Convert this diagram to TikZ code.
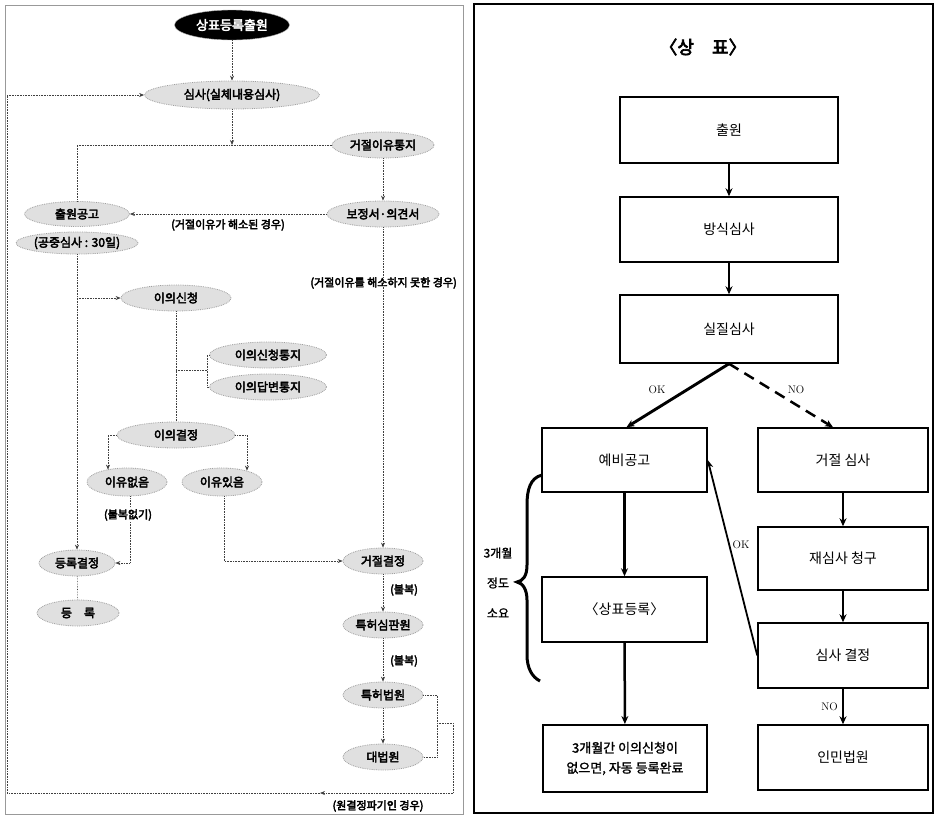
\documentclass[tikz,border=0pt]{standalone}
\usepackage{fontspec}
\newfontfamily\kr{Noto Sans CJK KR}
\newfontfamily\krb[FakeBold=3.5]{Noto Sans CJK KR}
\newfontfamily\krm[FakeBold=1.5]{Noto Sans CJK KR}
\usetikzlibrary{shapes.geometric,arrows.meta,calc}
\begin{document}
\begin{tikzpicture}[x=1pt,y=-1pt,
  lel/.style={ellipse, fill=gray!24, draw=gray!75, densely dotted, line width=0.8pt, inner sep=0pt,
    font=\krb\fontsize{12}{14}\selectfont, minimum height=26pt, minimum width=80pt},
  topel/.style={ellipse, fill=black, draw=gray!60, inner sep=0pt, text=white,
    font=\krb\fontsize{13}{15}\selectfont, minimum height=30pt, minimum width=115pt},
  lbl/.style={inner sep=1pt, font=\krb\fontsize{11}{13}\selectfont},
  lc/.style={densely dotted, draw=black!75, line width=0.6pt},
  la/.style={lc, -{Stealth[length=5pt,width=4pt]}},
  box/.style={draw, line width=1.5pt, inner sep=0pt, font=\kr\fontsize{14}{19}\selectfont, align=center},
  ra/.style={line width=2.5pt, -{Stealth[length=8pt,width=7pt]}},
  rl/.style={inner sep=1pt, font=\rmfamily\fontsize{11}{13}\selectfont},
  bl/.style={inner sep=1pt, font=\krm\fontsize{12}{14}\selectfont}
]
\useasboundingbox (0,0) rectangle (936,817);
\fill[white] (0,0) rectangle (936,817);

% ---------------- left panel ----------------
\draw[gray!80, line width=0.6pt] (5,5) rectangle (463,814);

\node[topel] (n0) at (232,25) {상표등록출원};
\node[lel, minimum width=175pt, minimum height=28pt] (n1) at (232,95) {심사(실체내용심사)};
\node[lel, minimum width=102pt] (n2) at (383,145) {거절이유통지};
\node[lel, minimum width=112pt] (n3) at (383,214) {보정서·의견서};
\node[lel, minimum width=105pt, minimum height=25pt] (n4) at (77,214) {출원공고};
\node[lel, minimum width=112pt, minimum height=22pt] (n5) at (77,243) {(공중심사 : 30일)};
\node[lel, minimum width=110pt] (n6) at (176,298) {이의신청};
\node[lel, minimum width=117pt] (n7) at (268,355) {이의신청통지};
\node[lel, minimum width=117pt] (n8) at (268,387) {이의답변통지};
\node[lel, minimum width=118pt] (n9) at (176,435) {이의결정};
\node[lel, minimum height=28pt] (n10) at (127,482) {이유없음};
\node[lel, minimum height=28pt] (n11) at (222,482) {이유있음};
\node[lel, minimum width=76pt] (n12) at (77,563) {등록결정};
\node[lel, minimum width=82pt] (n13) at (78,613) {등\quad 록};
\node[lel] (n14) at (383,561) {거절결정};
\node[lel] (n15) at (383,625) {특허심판원};
\node[lel] (n16) at (383,695) {특허법원};
\node[lel] (n17) at (383,757) {대법원};

\node[lbl] (l1) at (228,225) {(거절이유가 해소된 경우)};
\node[lbl, anchor=east] (l2) at (458,283) {(거절이유를 해소하지 못한 경우)};
\node[lbl, anchor=west] (l4) at (389,590) {(불복)};
\node[lbl, anchor=west] (l5) at (389,661) {(불복)};
\node[lbl] (l6) at (378,806) {(원결정파기인 경우)};

\coordinate (lb) at (7,95);
\coordinate (j1) at (232,145);
\coordinate (j2) at (77,298);
\coordinate (j3) at (176,370);
\coordinate (j4) at (207,370);
\coordinate (c1) at (437,723);
\coordinate (c2) at (453,793);
\coordinate (c3) at (320,793);
\coordinate (c4) at (7,793);

\draw[la] (n0) -- (n1);
\draw[la] (lb) -- (n1.west);
\draw[la] (n1.south) -- (j1);
\draw[lc] (n4.north) |- (n2.west);
\draw[la] (n2) -- (n3);
\draw[la] (n3.west) -- (n4.east);
\draw[la] (n3.south) -- (n14.north);
\draw[la] (n5.south) -- (n12.north);
\draw[la] (j2) -- (n6.west);
\draw[lc] (n6.south) -- (n9.north);
\draw[lc] (j3) -- (j4);
\draw[lc] (n7.west) -| (j4) |- (n8.west);
\draw[la] (n9.west) -| ($(n10.north)+(-19,2)$);
\draw[la] (n9.east) -| ($(n11.north)+(25,3)$);
\draw[la] ($(n10.south)+(3,0)$) |- (n12.east);
\draw[la] ($(n11.south)+(2,0)$) |- (n14.west);
\draw[lc] (n12) -- (n13);
\draw[la] (n14) -- (n15);
\draw[la] (n15) -- (n16);
\draw[la] (n16) -- (n17);
\draw[lc] (n16.east) -| (c1) |- (n17.east);
\draw[lc] (c1) -| (c2);
\draw[la] (c2) -- (c3);
\draw[lc] (c3) -- (c4) -- (lb);
\node[lbl, fill=white] (l3) at (128,515) {(불복없기)};

% ---------------- right panel ----------------
\draw[line width=1.2pt] (474,4) rectangle (933,813);

\node[inner sep=0pt, font=\krb\fontsize{18}{20}\selectfont] (rt) at (703,47) {〈상\quad 표〉};

\node[box, minimum width=218pt, minimum height=66pt] (r1) at (729,130) {출원};
\node[box, minimum width=218pt, minimum height=65pt] (r2) at (729,229.5) {방식심사};
\node[box, minimum width=218pt, minimum height=68pt] (r3) at (729,329) {실질심사};
\node[box, minimum width=165pt, minimum height=64pt] (r4) at (624.5,460) {예비공고};
\node[box, minimum width=170pt, minimum height=64pt] (r5) at (843,460) {거절 심사};
\node[box, minimum width=170pt, minimum height=63pt] (r6) at (843,558.5) {재심사 청구};
\node[box, minimum width=170pt, minimum height=65pt] (r7) at (843,655.5) {심사 결정};
\node[box, minimum width=170pt, minimum height=65pt] (r8) at (843,757.5) {인민법원};
\node[box, minimum width=165pt, minimum height=65pt] (r9) at (624.5,609.5) {〈상표등록〉};
\node[box, minimum width=164pt, minimum height=67pt, line width=2pt, font=\krm\fontsize{13}{20}\selectfont] (r10) at (625,758.5) {3개월간 이의신청이\\없으면, 자동 등록완료};

\draw[ra] (r1) -- (r2);
\draw[ra] (r2) -- (r3);
\draw[ra, line width=2.9pt] (r3.south) -- ($(r4.north)+(2,0)$);
\draw[ra, dash pattern=on 11pt off 7pt] (r3.south) -- ($(r5.north)+(-10,0)$);
\draw[ra] (r4) -- (r9);
\draw[ra] (r9) -- (r10);
\draw[ra] (r5) -- (r6);
\draw[ra] (r6) -- (r7);
\draw[ra] (r7) -- (r8);
\draw[line width=1.8pt, -{Stealth[length=8pt,width=7pt]}] (r7.west) -- (r4.east);

\node[rl] (ok1) at (657,390) {OK};
\node[rl] (no1) at (796,390) {NO};
\node[rl] (ok2) at (741,545) {OK};
\node[rl, anchor=east] (no2) at (839,707) {NO};

\draw[line width=3pt] (542,475) .. controls (530,478) and (527,490) .. (527,505)
  -- (527,565) .. controls (527,576) and (523,581) .. (517,582)
  .. controls (523,583) and (527,590) .. (527,600)
  -- (527,655) .. controls (527,668) and (532,677) .. (540,681);

\node[bl] (b1) at (498,553) {3개월};
\node[bl] (b2) at (498,583) {정도};
\node[bl] (b3) at (498,613) {소요};
\end{tikzpicture}
\end{document}
